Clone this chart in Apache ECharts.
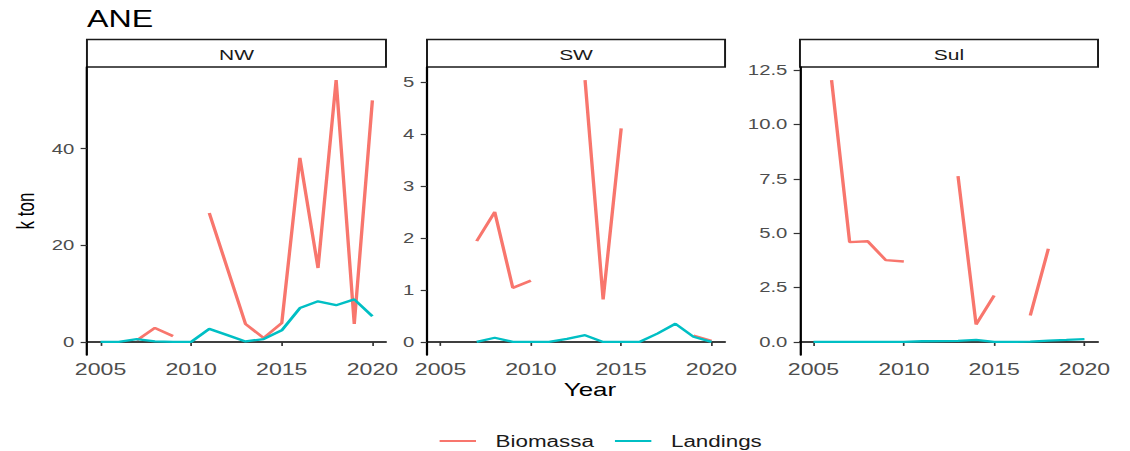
<!DOCTYPE html>
<html>
<head>
<meta charset="utf-8">
<script src="https://cdn.jsdelivr.net/npm/echarts@6/dist/echarts.min.js"></script>
<style>
  html, body { margin: 0; padding: 0; background: #ffffff; overflow: hidden; }
  #chart { width: 807.14px; height: 451px; transform: scaleX(1.4); transform-origin: 0 0; }
</style>
</head>
<body>
<div id="chart"></div>
<script>
// Years on the x axis
const years = [2005, 2006, 2007, 2008, 2009, 2010, 2011, 2012, 2013, 2014, 2015, 2016, 2017, 2018, 2019, 2020];

// Panel names
const regions = ['NW', 'SW', 'Sul'];

// k ton per year; null = no estimate
const nwBiomassa  = [null, null, 0.3, 2.9, 1.2, null, 26.7, 15.2, 3.7, 0.8, 3.9, 38.1, 15.3, 54.2, 3.7, 50.0];
const nwLandings  = [0, 0, 0.6, 0.1, 0, 0, 2.7, 1.4, 0.1, 0.6, 2.4, 7.0, 8.4, 7.6, 8.8, 5.3];
const swBiomassa  = [null, null, 1.94, 2.50, 1.04, 1.18, null, null, 5.04, 0.82, 4.11, null, null, null, 0.12, 0.02];
const swLandings  = [null, null, 0, 0.08, 0, 0, 0, 0.06, 0.13, 0, 0, 0, 0.16, 0.35, 0.10, 0.0];
const sulBiomassa = [null, 12.04, 4.59, 4.63, 3.76, 3.70, null, null, 7.62, 0.80, 2.13, null, 1.21, 4.28, null, null];
const sulLandings = [0, 0, 0, 0, 0, 0, 0.03, 0.04, 0.05, 0.09, 0, 0, 0.01, 0.06, 0.09, 0.13];

// Tick labels
const xTicks = [2005, 2010, 2015, 2020];
const yTicks = [[0, 20, 40], [0, 1, 2, 3, 4, 5], [0, 2.5, 5, 7.5, 10, 12.5]];

const biomassa = [nwBiomassa, swBiomassa, sulBiomassa];
const landings = [nwLandings, swLandings, sulLandings];

const FONT = "'Liberation Sans', Arial, sans-serif";
const RED = '#F8766D';
const TEAL = '#00BFC4';

// panel layout (chart units; the canvas is stretched horizontally by CSS)
const panels = [
  { left: 62.1, width: 213.6 },
  { left: 305.0, width: 212.9 },
  { left: 571.4, width: 212.9 }
];
const TOP = 67, HEIGHT = 288, STRIP_TOP = 39.5, STRIP_H = 27.5;

function pairs(vals) {
  return years.map((y, i) => [y, vals[i] == null ? '-' : vals[i]]);
}

// ggplot-style 5% expansion of the data range
function expandRange(a, b) {
  const all = a.concat(b).filter(v => v != null);
  const lo = Math.min(...all), hi = Math.max(...all);
  const pad = (hi - lo) * 0.05;
  return [lo - pad, hi + pad];
}
const xPad = (years[years.length - 1] - years[0]) * 0.05;

const grid = [], xAxis = [], yAxis = [], series = [], graphic = [];

panels.forEach((p, k) => {
  grid.push({ left: p.left, top: TOP, width: p.width, height: HEIGHT, containLabel: false });
  xAxis.push({
    type: 'value', gridIndex: k,
    min: years[0] - xPad, max: years[years.length - 1] + xPad,
    axisLine: { show: true, lineStyle: { color: '#000', width: 1.6 } },
    axisTick: { show: true, length: 4, customValues: xTicks, lineStyle: { color: '#333', width: 1.2 } },
    axisLabel: { customValues: xTicks, color: '#4D4D4D', fontSize: 16.5, fontFamily: FONT, margin: 6,
      formatter: v => String(v) },
    splitLine: { show: false }
  });
  const r = expandRange(biomassa[k], landings[k]);
  yAxis.push({
    type: 'value', gridIndex: k, min: r[0], max: r[1],
    axisLine: { show: true, lineStyle: { color: '#000', width: 1.6 } },
    axisTick: { show: true, length: 4.5, customValues: yTicks[k], lineStyle: { color: '#333', width: 1.2 } },
    axisLabel: {
      customValues: yTicks[k], color: '#4D4D4D', fontSize: 14.5, fontFamily: FONT, margin: 9,
      formatter: k === 2 ? (v => Number(v).toFixed(1)) : (v => String(v))
    },
    splitLine: { show: false }
  });
  series.push({
    name: 'Biomassa', type: 'line', xAxisIndex: k, yAxisIndex: k,
    data: pairs(biomassa[k]), showSymbol: false, symbol: 'none',
    lineStyle: { color: RED, width: 2.4 }, itemStyle: { color: RED },
    connectNulls: false, animation: false, z: 2
  });
  series.push({
    name: 'Landings', type: 'line', xAxisIndex: k, yAxisIndex: k,
    data: pairs(landings[k]), showSymbol: false, symbol: 'none',
    lineStyle: { color: TEAL, width: 2.3 }, itemStyle: { color: TEAL },
    connectNulls: false, animation: false, z: 3
  });
  // facet strip
  graphic.push({
    type: 'rect', shape: { x: p.left, y: STRIP_TOP, width: p.width, height: STRIP_H },
    style: { fill: '#ffffff', stroke: '#1a1a1a', lineWidth: 1.4 }
  });
  graphic.push({
    type: 'text', x: p.left + p.width / 2, y: STRIP_TOP + STRIP_H / 2 + 1,
    style: { text: regions[k], fill: '#1a1a1a', font: '15px ' + FONT, textAlign: 'center', textVerticalAlign: 'middle' }
  });
});

// title and axis titles
graphic.push({
  type: 'text', x: 62.1, y: 19,
  style: { text: 'ANE', fill: '#000', font: '23px ' + FONT, textAlign: 'left', textVerticalAlign: 'middle' }
});
graphic.push({
  type: 'text', x: 17.9, y: 211, rotation: Math.PI / 2,
  style: { text: 'k ton', fill: '#000', font: '17px ' + FONT, textAlign: 'center', textVerticalAlign: 'middle' }
});
graphic.push({
  type: 'text', x: 421.4, y: 390,
  style: { text: 'Year', fill: '#000', font: '18.5px ' + FONT, textAlign: 'center', textVerticalAlign: 'middle' }
});

const chart = echarts.init(document.getElementById('chart'), null, { renderer: 'svg' });
chart.setOption({
  backgroundColor: '#ffffff',
  animation: false,
  grid, xAxis, yAxis, series, graphic,
  legend: {
    data: ['Biomassa', 'Landings'],
    left: 309, top: 428,
    icon: 'rect', itemWidth: 26, itemHeight: 2, itemGap: 15,
    formatter: name => '{t|' + name + '}',
    textStyle: {
      color: '#1a1a1a', fontSize: 16, fontFamily: FONT,
      rich: { t: { color: '#1a1a1a', fontSize: 16, fontFamily: FONT, padding: [0, 0, 0, 9] } }
    }
  }
});
</script>
</body>
</html>
